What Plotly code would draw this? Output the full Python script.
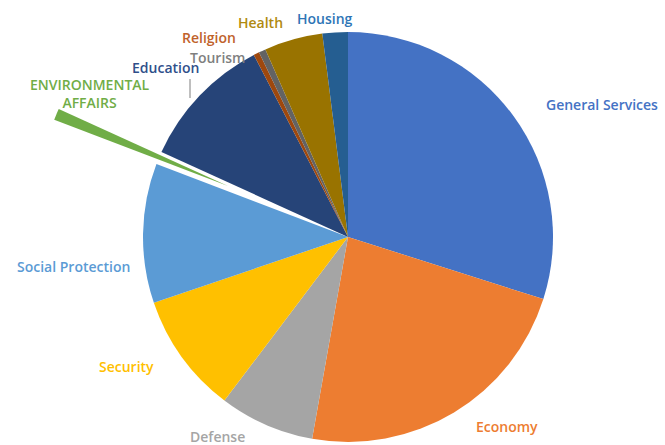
import plotly.graph_objects as go

categories = ["General Services", "Economy", "Defense", "Security", "Social Protection",
              "ENVIRONMENTAL AFFAIRS", "Education", "Religion", "Tourism", "Health", "Housing"]
shares = [29.9, 22.9, 7.5, 9.5, 11.0, 1.0, 10.6, 0.45, 0.55, 4.6, 2.0]
slice_colors = ["#4472C4", "#ED7D31", "#A5A5A5", "#FFC000", "#5B9BD5",
                "#70AD47", "#264478", "#9E480E", "#636363", "#997300", "#255E91"]
label_colors = ["#4472C4", "#ED7D31", "#A5A5A5", "#FFC000", "#5B9BD5",
                "#70AD47", "#2F4F8A", "#C0622B", "#7F7F7F", "#B08A10", "#2E75B6"]
exploded = "ENVIRONMENTAL AFFAIRS"

W, H = 665, 445

def px_domain(cx, cy, r):
    return dict(x=[(cx - r) / W, (cx + r) / W], y=[1 - (cy + r) / H, 1 - (cy - r) / H])

main_colors = [("rgba(0,0,0,0)" if c == exploded else col) for c, col in zip(categories, slice_colors)]
pull_colors = [(col if c == exploded else "rgba(0,0,0,0)") for c, col in zip(categories, slice_colors)]

fig = go.Figure()
fig.add_trace(go.Pie(
    labels=categories, values=shares, sort=False, direction="clockwise", rotation=0,
    marker=dict(colors=main_colors, line=dict(width=0)),
    textinfo="none", showlegend=False, domain=px_domain(348, 237, 205),
))
fig.add_trace(go.Pie(
    labels=categories, values=shares, sort=False, direction="clockwise", rotation=0,
    marker=dict(colors=pull_colors, line=dict(width=0)),
    textinfo="none", showlegend=False, hoverinfo="skip", domain=px_domain(228, 186, 186),
))

label_pos = {
    "General Services": (602, 104),
    "Economy": (507, 426),
    "Defense": (217, 436),
    "Security": (126, 366),
    "Social Protection": (73, 266),
    "ENVIRONMENTAL AFFAIRS": (90, 93),
    "Education": (165, 67),
    "Religion": (209, 37),
    "Tourism": (217, 57),
    "Health": (260, 23),
    "Housing": (325, 18),
}
annotations = []
for c, lc in zip(categories, label_colors):
    x, y = label_pos[c]
    text = "ENVIRONMENTAL<br>AFFAIRS" if c == exploded else c
    annotations.append(dict(
        x=x / W, y=1 - y / H, xref="paper", yref="paper", text=text, showarrow=False,
        xanchor="center", yanchor="middle", borderpad=0,
        font=dict(family="Open Sans", size=14, color=lc, weight=600),
    ))

fig.update_layout(
    width=W, height=H, margin=dict(l=0, r=0, t=0, b=0),
    paper_bgcolor="white", plot_bgcolor="white",
    annotations=annotations,
    shapes=[dict(type="line", xref="paper", yref="paper",
                 x0=190 / W, x1=190 / W, y0=1 - 79 / H, y1=1 - 98 / H,
                 line=dict(color="#7F7F7F", width=1))],
)
fig.write_html("out.html")
